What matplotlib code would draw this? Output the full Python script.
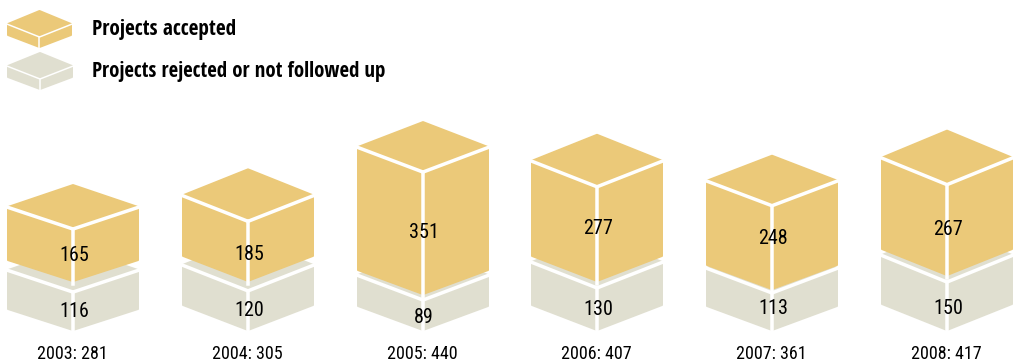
import matplotlib
matplotlib.use("Agg")
import matplotlib.pyplot as plt
from matplotlib.patches import Polygon

years = [2003, 2004, 2005, 2006, 2007, 2008]
accepted = [165, 185, 351, 277, 248, 267]
rejected = [116, 120, 89, 130, 113, 150]
legend_labels = ['Projects accepted', 'Projects rejected or not followed up']

ACCEPTED_COLOR = '#EBC979'
REJECTED_COLOR = '#E0DFD0'

# layout, in pixels
lefts = [7, 182, 357, 531, 706, 881]
rises = [22, 26, 25, 26, 25, 27]
gaps = [10, 9, 5, 6, 3, 6]
accepted_shift = [0, 3, -1, -6, -9, -1]
rejected_shift = [0, 0, 2, 0, -3, 2]
BOX_W = 132
GROUND = 331


def px(n):
    return n * 72 / 100


def accepted_height(v):
    return 0.376 * v - 9


def rejected_height(v):
    return 0.295 * v + 4.7


def box(ax, left, tip, height, rise, width, color, zorder, line=3.5):
    """Isometric box, tip is the y of its lowest corner."""
    cx = left + width / 2
    right = left + width
    top_tip = tip - height
    outline = [(left + 1, top_tip - rise), (cx, top_tip - 2 * rise), (right - 1, top_tip - rise),
               (right - 1, tip - rise), (cx, tip - 1), (left + 1, tip - rise)]
    ax.add_patch(Polygon(outline, closed=True, facecolor=color, edgecolor=color,
                         linewidth=px(2), joinstyle='round', zorder=zorder))
    # white edges between the three visible faces
    ax.plot([left - 1, cx, right + 1], [top_tip - rise - 0.3, top_tip, top_tip - rise - 0.3],
            color='white', lw=px(line), solid_joinstyle='miter', zorder=zorder + 0.1)
    ax.plot([cx, cx], [top_tip, tip + 2], color='white', lw=px(line), zorder=zorder + 0.1)
    return top_tip


fig = plt.figure(figsize=(10.15, 3.63), dpi=100)
ax = fig.add_axes([0, 0, 1, 1])
ax.set_xlim(0, 1015)
ax.set_ylim(363, 0)
ax.axis('off')

# legend swatches
box(ax, 7, 48, 11, 13, 65, ACCEPTED_COLOR, 2, line=1.5)
box(ax, 7, 90, 11, 13, 66, REJECTED_COLOR, 2, line=1.5)
ax.text(92, 29, legend_labels[0], family='Open Sans Condensed', fontsize=15.3,
        fontweight='bold', color='black', va='center')
ax.text(92, 71, legend_labels[1], family='Open Sans Condensed', fontsize=15,
        fontweight='bold', color='black', va='center')

for i, year in enumerate(years):
    left = lefts[i]
    cx = left + BOX_W / 2
    rej_top = box(ax, left, GROUND, rejected_height(rejected[i]), rises[i], BOX_W, REJECTED_COLOR, 2)
    acc_tip = rej_top - gaps[i]
    acc_top = box(ax, left, acc_tip, accepted_height(accepted[i]), rises[i], BOX_W, ACCEPTED_COLOR, 3)

    ax.text(cx + 1, (acc_top + acc_tip) / 2 + accepted_shift[i], str(accepted[i]),
            family='Roboto Condensed', fontsize=14.5,
            ha='center', va='center', color='black', zorder=5)
    ax.text(cx + 1, (rej_top + GROUND) / 2 + rejected_shift[i], str(rejected[i]),
            family='Roboto Condensed', fontsize=14.5,
            ha='center', va='center', color='black', zorder=5)
    ax.text(cx - 0.5, 354, f'{year}: {accepted[i] + rejected[i]}',
            family='Roboto Condensed', fontsize=13,
            ha='center', va='center', color='black', zorder=5)

fig.savefig('out.png', dpi=100)
